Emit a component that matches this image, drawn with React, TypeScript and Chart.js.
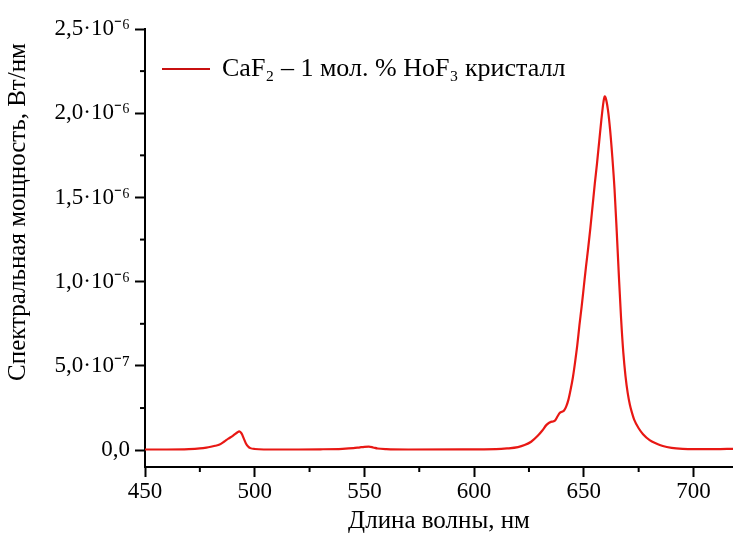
import React, { useEffect, useRef } from "react";
import { Chart, registerables } from "chart.js";

Chart.register(...registerables);

// Wavelength, nm
const wavelengths = [
  450, 460, 470, 475, 478, 480, 482, 484, 486, 488, 490, 491, 492, 493, 494, 495, 496, 497, 498, 500,
  510, 520, 530, 540, 545, 548, 550, 552, 554, 556, 560, 570, 600, 610, 615, 620, 623, 626, 629, 631,
  633, 635, 636, 637, 638, 639, 640, 641, 642, 643, 644, 645, 646, 647, 648, 649, 650, 651, 652, 653,
  654, 655, 656, 657, 658, 659, 659.5, 660, 661, 662, 663, 664, 665, 666, 667, 668, 669, 670, 671, 672,
  673, 675, 677, 680, 683, 686, 690, 695, 700, 710, 718,
];
// Spectral power, 10^-6 W/nm
const powerMicro = [
  0.004, 0.004, 0.006, 0.01, 0.015, 0.02, 0.026, 0.033, 0.05, 0.068, 0.085, 0.095, 0.105, 0.112, 0.1, 0.07, 0.04, 0.022, 0.012, 0.007,
  0.004, 0.004, 0.005, 0.008, 0.012, 0.017, 0.02, 0.021, 0.016, 0.01, 0.006, 0.004, 0.005, 0.006, 0.01, 0.018, 0.03, 0.05, 0.085, 0.115,
  0.15, 0.168, 0.17, 0.178, 0.2, 0.22, 0.228, 0.235, 0.26, 0.3, 0.36, 0.43, 0.52, 0.62, 0.74, 0.85, 0.97, 1.09, 1.2, 1.32,
  1.45, 1.58, 1.7, 1.83, 1.96, 2.07, 2.1, 2.09, 2.02, 1.9, 1.74, 1.55, 1.3, 1.03, 0.78, 0.58, 0.44, 0.34, 0.27, 0.22,
  0.18, 0.13, 0.095, 0.06, 0.04, 0.025, 0.014, 0.008, 0.006, 0.006, 0.008,
];

const seriesLabel = "CaF\u2082 \u2013 1 мол. % HoF\u2083 кристалл";
const xTickValues = [450, 475, 500, 525, 550, 575, 600, 625, 650, 675, 700];
const xTickLabels = ["450", "500", "550", "600", "650", "700"];
const yTickValues = [0, 0.25, 0.5, 0.75, 1.0, 1.25, 1.5, 1.75, 2.0, 2.25, 2.5];
const yTickLabels = ["0,0", "5,0·10\u207B\u2077", "1,0·10\u207B\u2076", "1,5·10\u207B\u2076", "2,0·10\u207B\u2076", "2,5·10\u207B\u2076"];
const xTitle = "Длина волны, нм";
const yTitle = "Спектральная мощность, Вт/нм";

const FONT = "'Liberation Serif', 'Times New Roman', serif";
const LINE_COLOR = "rgb(232, 24, 20)";

const decorPlugin = {
  id: "decor",
  afterDraw(chart: any) {
    const ctx = chart.ctx;
    const area = chart.chartArea;
    const xs = chart.scales.x;
    const ys = chart.scales.y;
    ctx.save();
    // minor ticks
    ctx.strokeStyle = "#000";
    ctx.lineWidth = 2;
    xTickValues.forEach((v, i) => {
      if (i % 2 === 1) {
        const px = xs.getPixelForValue(v);
        ctx.beginPath();
        ctx.moveTo(px, area.bottom);
        ctx.lineTo(px, area.bottom + 5);
        ctx.stroke();
      }
    });
    yTickValues.forEach((v, i) => {
      if (i % 2 === 1) {
        const py = ys.getPixelForValue(v);
        ctx.beginPath();
        ctx.moveTo(area.left, py);
        ctx.lineTo(area.left - 5, py);
        ctx.stroke();
      }
    });
    // y title
    ctx.fillStyle = "#000";
    ctx.font = `25px ${FONT}`;
    ctx.textAlign = "center";
    ctx.textBaseline = "middle";
    ctx.translate(18, 212);
    ctx.rotate(-Math.PI / 2);
    ctx.fillText(yTitle, 0, 0);
    ctx.restore();

    // legend
    ctx.save();
    const ly = area.top + 40;
    ctx.strokeStyle = "rgb(200, 16, 16)";
    ctx.lineWidth = 2;
    ctx.beginPath();
    ctx.moveTo(area.left + 17, ly);
    ctx.lineTo(area.left + 65, ly);
    ctx.stroke();
    ctx.fillStyle = "#000";
    ctx.font = `26px ${FONT}`;
    ctx.textAlign = "left";
    ctx.textBaseline = "middle";
    ctx.fillText(seriesLabel, area.left + 77, ly);
    ctx.restore();
  },
};

export default function App() {
  const ref = useRef<HTMLCanvasElement | null>(null);
  useEffect(() => {
    document.body.style.margin = "0";
    const canvas = ref.current;
    if (!canvas) return;
    const chart = new Chart(canvas, {
      type: "line",
      data: {
        datasets: [
          {
            label: seriesLabel,
            data: wavelengths.map((w, i) => ({ x: w, y: powerMicro[i] })),
            borderColor: LINE_COLOR,
            backgroundColor: LINE_COLOR,
            borderWidth: 2.2,
            pointRadius: 0,
            cubicInterpolationMode: "monotone",
          },
        ],
      },
      options: {
        animation: false,
        responsive: false,
        layout: { padding: { top: 29, left: 0, right: 0, bottom: 0 } },
        plugins: { legend: { display: false }, tooltip: { enabled: false } },
        scales: {
          x: {
            type: "linear",
            min: 450,
            max: 718,
            afterBuildTicks: (s: any) => {
              s.ticks = xTickValues.map((v) => ({ value: v }));
            },
            afterFit: (s: any) => {
              s.height = 67;
            },
            ticks: {
              autoSkip: false,
              maxRotation: 0,
              padding: 1,
              color: "#000",
              font: { family: FONT, size: 23 },
              callback: (_v: any, i: number) => (i % 2 === 0 ? xTickLabels[i / 2] : ""),
            },
            grid: {
              display: true,
              drawOnChartArea: false,
              tickLength: 10,
              tickWidth: 2,
              tickColor: (c: any) => (c.index % 2 === 0 ? "#000" : "rgba(0,0,0,0)"),
            },
            border: { display: true, color: "#000", width: 2 },
            title: {
              display: true,
              text: xTitle,
              color: "#000",
              font: { family: FONT, size: 25 },
              padding: { top: 0, bottom: -2 },
            },
          },
          y: {
            type: "linear",
            min: -0.1,
            max: 2.5,
            afterBuildTicks: (s: any) => {
              s.ticks = yTickValues.map((v) => ({ value: v }));
            },
            afterFit: (s: any) => {
              s.width = 145;
            },
            ticks: {
              autoSkip: false,
              padding: 5,
              color: "#000",
              font: { family: FONT, size: 23 },
              callback: (_v: any, i: number) => (i % 2 === 0 ? yTickLabels[i / 2] : ""),
            },
            grid: {
              display: true,
              drawOnChartArea: false,
              tickLength: 10,
              tickWidth: 2,
              tickColor: (c: any) => (c.index % 2 === 0 ? "#000" : "rgba(0,0,0,0)"),
            },
            border: { display: true, color: "#000", width: 2 },
          },
        },
      },
      plugins: [decorPlugin],
    } as any);
    return () => chart.destroy();
  }, []);
  return <canvas ref={ref} width={733} height={534} style={{ display: "block" }} />;
}
